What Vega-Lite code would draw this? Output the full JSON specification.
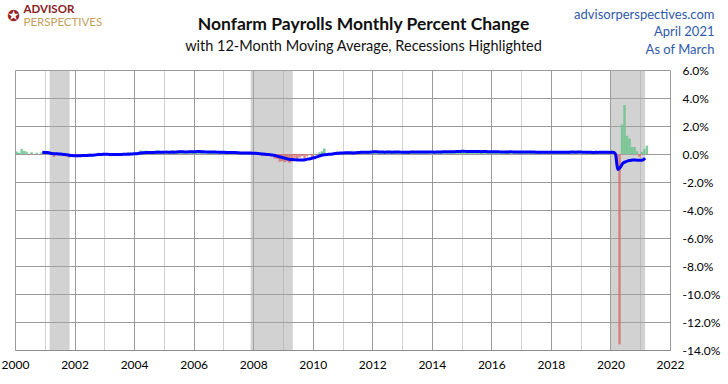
{
"$schema": "https://vega.github.io/schema/vega-lite/v6.json",
"width": 655, "height": 280,
"autosize": {"type": "none"},
"padding": {"left": 15, "top": 70, "right": 58, "bottom": 34},
"background": "white",
"title": {"text": "Nonfarm Payrolls Monthly Percent Change", "subtitle": "with 12-Month  Moving  Average, Recessions Highlighted", "anchor": "middle", "frame": "group", "dx": 21, "offset": -50, "font": "Lato", "fontSize": 17.5, "fontWeight": "bold", "color": "#111111", "subtitleFont": "Lato", "subtitleFontSize": 14.5, "subtitleColor": "#111111", "subtitlePadding": 6},
"datasets": {
"rec": [{"s": "2001-03-01", "e": "2001-11-01"}, {"s": "2007-12-01", "e": "2009-05-01"}, {"s": "2020-01-01", "e": "2021-03-01"}],
"jobs": [
{"d":"2000-01-01","p":0.18},{"d":"2000-02-01","p":0.09},{"d":"2000-03-01","p":0.36},{"d":"2000-04-01","p":0.22},{"d":"2000-05-01","p":0.17},{"d":"2000-06-01","p":-0.04},{"d":"2000-07-01","p":0.13},{"d":"2000-08-01","p":0.0},{"d":"2000-09-01","p":0.09},{"d":"2000-10-01","p":0.0},{"d":"2000-11-01","p":0.12},{"d":"2000-12-01","p":0.11,"m":0.119},
{"d":"2001-01-01","p":0.03,"m":0.107},{"d":"2001-02-01","p":0.05,"m":0.103},{"d":"2001-03-01","p":-0.02,"m":0.072},{"d":"2001-04-01","p":-0.21,"m":0.036},{"d":"2001-05-01","p":-0.03,"m":0.019},{"d":"2001-06-01","p":-0.10,"m":0.014},{"d":"2001-07-01","p":-0.09,"m":-0.004},{"d":"2001-08-01","p":-0.12,"m":-0.014},{"d":"2001-09-01","p":-0.18,"m":-0.037},{"d":"2001-10-01","p":-0.25,"m":-0.058},{"d":"2001-11-01","p":-0.22,"m":-0.086},{"d":"2001-12-01","p":-0.13,"m":-0.106},
{"d":"2002-01-01","p":-0.11,"m":-0.118},{"d":"2002-02-01","p":-0.05,"m":-0.126},{"d":"2002-03-01","p":-0.02,"m":-0.126},{"d":"2002-04-01","p":-0.06,"m":-0.113},{"d":"2002-05-01","p":0.0,"m":-0.111},{"d":"2002-06-01","p":0.04,"m":-0.099},{"d":"2002-07-01","p":-0.07,"m":-0.098},{"d":"2002-08-01","p":0.0,"m":-0.088},{"d":"2002-09-01","p":-0.06,"m":-0.078},{"d":"2002-10-01","p":0.09,"m":-0.049},{"d":"2002-11-01","p":0.01,"m":-0.030},{"d":"2002-12-01","p":-0.12,"m":-0.029},
{"d":"2003-01-01","p":0.07,"m":-0.014},{"d":"2003-02-01","p":-0.12,"m":-0.020},{"d":"2003-03-01","p":-0.16,"m":-0.032},{"d":"2003-04-01","p":-0.04,"m":-0.030},{"d":"2003-05-01","p":-0.01,"m":-0.031},{"d":"2003-06-01","p":0.0,"m":-0.034},{"d":"2003-07-01","p":0.02,"m":-0.027},{"d":"2003-08-01","p":-0.03,"m":-0.029},{"d":"2003-09-01","p":0.08,"m":-0.018},{"d":"2003-10-01","p":0.15,"m":-0.013},{"d":"2003-11-01","p":0.01,"m":-0.013},{"d":"2003-12-01","p":0.10,"m":0.006},
{"d":"2004-01-01","p":0.11,"m":0.009},{"d":"2004-02-01","p":0.03,"m":0.022},{"d":"2004-03-01","p":0.26,"m":0.057},{"d":"2004-04-01","p":0.19,"m":0.076},{"d":"2004-05-01","p":0.24,"m":0.097},{"d":"2004-06-01","p":0.06,"m":0.102},{"d":"2004-07-01","p":0.03,"m":0.103},{"d":"2004-08-01","p":0.09,"m":0.113},{"d":"2004-09-01","p":0.12,"m":0.116},{"d":"2004-10-01","p":0.26,"m":0.125},{"d":"2004-11-01","p":0.05,"m":0.128},{"d":"2004-12-01","p":0.10,"m":0.128},
{"d":"2005-01-01","p":0.10,"m":0.128},{"d":"2005-02-01","p":0.18,"m":0.140},{"d":"2005-03-01","p":0.11,"m":0.128},{"d":"2005-04-01","p":0.27,"m":0.134},{"d":"2005-05-01","p":0.13,"m":0.125},{"d":"2005-06-01","p":0.18,"m":0.135},{"d":"2005-07-01","p":0.28,"m":0.156},{"d":"2005-08-01","p":0.14,"m":0.160},{"d":"2005-09-01","p":0.05,"m":0.154},{"d":"2005-10-01","p":0.06,"m":0.138},{"d":"2005-11-01","p":0.25,"m":0.154},{"d":"2005-12-01","p":0.12,"m":0.156},
{"d":"2006-01-01","p":0.20,"m":0.164},{"d":"2006-02-01","p":0.23,"m":0.168},{"d":"2006-03-01","p":0.21,"m":0.177},{"d":"2006-04-01","p":0.13,"m":0.165},{"d":"2006-05-01","p":0.02,"m":0.156},{"d":"2006-06-01","p":0.06,"m":0.146},{"d":"2006-07-01","p":0.15,"m":0.135},{"d":"2006-08-01","p":0.13,"m":0.134},{"d":"2006-09-01","p":0.12,"m":0.140},{"d":"2006-10-01","p":0.0,"m":0.135},{"d":"2006-11-01","p":0.15,"m":0.127},{"d":"2006-12-01","p":0.13,"m":0.128},
{"d":"2007-01-01","p":0.17,"m":0.125},{"d":"2007-02-01","p":0.06,"m":0.111},{"d":"2007-03-01","p":0.14,"m":0.105},{"d":"2007-04-01","p":0.06,"m":0.099},{"d":"2007-05-01","p":0.10,"m":0.106},{"d":"2007-06-01","p":0.05,"m":0.105},{"d":"2007-07-01","p":-0.02,"m":0.091},{"d":"2007-08-01","p":-0.01,"m":0.079},{"d":"2007-09-01","p":0.06,"m":0.074},{"d":"2007-10-01","p":0.06,"m":0.079},{"d":"2007-11-01","p":0.08,"m":0.073},{"d":"2007-12-01","p":0.07,"m":0.068},
{"d":"2008-01-01","p":0.01,"m":0.055},{"d":"2008-02-01","p":-0.06,"m":0.045},{"d":"2008-03-01","p":-0.06,"m":0.028},{"d":"2008-04-01","p":-0.15,"m":0.011},{"d":"2008-05-01","p":-0.13,"m":-0.008},{"d":"2008-06-01","p":-0.12,"m":-0.023},{"d":"2008-07-01","p":-0.15,"m":-0.033},{"d":"2008-08-01","p":-0.19,"m":-0.048},{"d":"2008-09-01","p":-0.33,"m":-0.081},{"d":"2008-10-01","p":-0.35,"m":-0.115},{"d":"2008-11-01","p":-0.56,"m":-0.168},{"d":"2008-12-01","p":-0.51,"m":-0.217},
{"d":"2009-01-01","p":-0.59,"m":-0.267},{"d":"2009-02-01","p":-0.53,"m":-0.306},{"d":"2009-03-01","p":-0.63,"m":-0.353},{"d":"2009-04-01","p":-0.53,"m":-0.385},{"d":"2009-05-01","p":-0.27,"m":-0.397},{"d":"2009-06-01","p":-0.36,"m":-0.417},{"d":"2009-07-01","p":-0.25,"m":-0.425},{"d":"2009-08-01","p":-0.16,"m":-0.423},{"d":"2009-09-01","p":-0.34,"m":-0.423},{"d":"2009-10-01","p":-0.17,"m":-0.408},{"d":"2009-11-01","p":-0.02,"m":-0.363},{"d":"2009-12-01","p":-0.22,"m":-0.339},
{"d":"2010-01-01","p":0.01,"m":-0.289},{"d":"2010-02-01","p":-0.04,"m":-0.248},{"d":"2010-03-01","p":0.12,"m":-0.186},{"d":"2010-04-01","p":0.19,"m":-0.126},{"d":"2010-05-01","p":0.40,"m":-0.070},{"d":"2010-06-01","p":-0.09,"m":-0.048},{"d":"2010-07-01","p":-0.05,"m":-0.031},{"d":"2010-08-01","p":-0.03,"m":-0.020},{"d":"2010-09-01","p":-0.04,"m":0.005},{"d":"2010-10-01","p":0.19,"m":0.035},{"d":"2010-11-01","p":0.11,"m":0.046},{"d":"2010-12-01","p":0.05,"m":0.068},
{"d":"2011-01-01","p":0.05,"m":0.072},{"d":"2011-02-01","p":0.13,"m":0.086},{"d":"2011-03-01","p":0.16,"m":0.089},{"d":"2011-04-01","p":0.24,"m":0.093},{"d":"2011-05-01","p":0.08,"m":0.067},{"d":"2011-06-01","p":0.17,"m":0.088},{"d":"2011-07-01","p":0.08,"m":0.099},{"d":"2011-08-01","p":0.09,"m":0.109},{"d":"2011-09-01","p":0.17,"m":0.127},{"d":"2011-10-01","p":0.14,"m":0.123},{"d":"2011-11-01","p":0.12,"m":0.123},{"d":"2011-12-01","p":0.15,"m":0.132},
{"d":"2012-01-01","p":0.27,"m":0.150},{"d":"2012-02-01","p":0.17,"m":0.153},{"d":"2012-03-01","p":0.18,"m":0.155},{"d":"2012-04-01","p":0.07,"m":0.141},{"d":"2012-05-01","p":0.08,"m":0.141},{"d":"2012-06-01","p":0.07,"m":0.133},{"d":"2012-07-01","p":0.12,"m":0.136},{"d":"2012-08-01","p":0.11,"m":0.138},{"d":"2012-09-01","p":0.12,"m":0.133},{"d":"2012-10-01","p":0.17,"m":0.136},{"d":"2012-11-01","p":0.15,"m":0.138},{"d":"2012-12-01","p":0.16,"m":0.139},
{"d":"2013-01-01","p":0.14,"m":0.128},{"d":"2013-02-01","p":0.23,"m":0.133},{"d":"2013-03-01","p":0.10,"m":0.127},{"d":"2013-04-01","p":0.14,"m":0.133},{"d":"2013-05-01","p":0.16,"m":0.139},{"d":"2013-06-01","p":0.11,"m":0.143},{"d":"2013-07-01","p":0.10,"m":0.141},{"d":"2013-08-01","p":0.20,"m":0.148},{"d":"2013-09-01","p":0.11,"m":0.148},{"d":"2013-10-01","p":0.17,"m":0.148},{"d":"2013-11-01","p":0.19,"m":0.151},{"d":"2013-12-01","p":0.03,"m":0.140},
{"d":"2014-01-01","p":0.14,"m":0.140},{"d":"2014-02-01","p":0.11,"m":0.130},{"d":"2014-03-01","p":0.20,"m":0.138},{"d":"2014-04-01","p":0.24,"m":0.147},{"d":"2014-05-01","p":0.18,"m":0.148},{"d":"2014-06-01","p":0.22,"m":0.158},{"d":"2014-07-01","p":0.17,"m":0.163},{"d":"2014-08-01","p":0.16,"m":0.160},{"d":"2014-09-01","p":0.21,"m":0.168},{"d":"2014-10-01","p":0.14,"m":0.166},{"d":"2014-11-01","p":0.24,"m":0.170},{"d":"2014-12-01","p":0.21,"m":0.185},
{"d":"2015-01-01","p":0.17,"m":0.188},{"d":"2015-02-01","p":0.18,"m":0.193},{"d":"2015-03-01","p":0.07,"m":0.183},{"d":"2015-04-01","p":0.20,"m":0.179},{"d":"2015-05-01","p":0.23,"m":0.183},{"d":"2015-06-01","p":0.17,"m":0.179},{"d":"2015-07-01","p":0.20,"m":0.182},{"d":"2015-08-01","p":0.10,"m":0.177},{"d":"2015-09-01","p":0.11,"m":0.168},{"d":"2015-10-01","p":0.22,"m":0.175},{"d":"2015-11-01","p":0.18,"m":0.170},{"d":"2015-12-01","p":0.19,"m":0.168},
{"d":"2016-01-01","p":0.08,"m":0.161},{"d":"2016-02-01","p":0.17,"m":0.160},{"d":"2016-03-01","p":0.15,"m":0.167},{"d":"2016-04-01","p":0.12,"m":0.160},{"d":"2016-05-01","p":0.04,"m":0.144},{"d":"2016-06-01","p":0.21,"m":0.148},{"d":"2016-07-01","p":0.23,"m":0.150},{"d":"2016-08-01","p":0.11,"m":0.151},{"d":"2016-09-01","p":0.18,"m":0.157},{"d":"2016-10-01","p":0.10,"m":0.147},{"d":"2016-11-01","p":0.11,"m":0.141},{"d":"2016-12-01","p":0.16,"m":0.138},
{"d":"2017-01-01","p":0.16,"m":0.145},{"d":"2017-02-01","p":0.14,"m":0.143},{"d":"2017-03-01","p":0.05,"m":0.134},{"d":"2017-04-01","p":0.12,"m":0.134},{"d":"2017-05-01","p":0.17,"m":0.145},{"d":"2017-06-01","p":0.16,"m":0.141},{"d":"2017-07-01","p":0.12,"m":0.132},{"d":"2017-08-01","p":0.13,"m":0.133},{"d":"2017-09-01","p":0.03,"m":0.121},{"d":"2017-10-01","p":0.14,"m":0.124},{"d":"2017-11-01","p":0.15,"m":0.128},{"d":"2017-12-01","p":0.11,"m":0.123},
{"d":"2018-01-01","p":0.12,"m":0.120},{"d":"2018-02-01","p":0.21,"m":0.126},{"d":"2018-03-01","p":0.09,"m":0.129},{"d":"2018-04-01","p":0.12,"m":0.129},{"d":"2018-05-01","p":0.19,"m":0.131},{"d":"2018-06-01","p":0.15,"m":0.130},{"d":"2018-07-01","p":0.09,"m":0.128},{"d":"2018-08-01","p":0.17,"m":0.131},{"d":"2018-09-01","p":0.08,"m":0.135},{"d":"2018-10-01","p":0.16,"m":0.137},{"d":"2018-11-01","p":0.11,"m":0.133},{"d":"2018-12-01","p":0.16,"m":0.138},
{"d":"2019-01-01","p":0.18,"m":0.143},{"d":"2019-02-01","p":0.0,"m":0.125},{"d":"2019-03-01","p":0.10,"m":0.126},{"d":"2019-04-01","p":0.14,"m":0.128},{"d":"2019-05-01","p":0.06,"m":0.117},{"d":"2019-06-01","p":0.12,"m":0.114},{"d":"2019-07-01","p":0.13,"m":0.118},{"d":"2019-08-01","p":0.14,"m":0.115},{"d":"2019-09-01","p":0.14,"m":0.120},{"d":"2019-10-01","p":0.12,"m":0.117},{"d":"2019-11-01","p":0.17,"m":0.122},{"d":"2019-12-01","p":0.12,"m":0.118},
{"d":"2020-01-01","p":0.14,"m":0.115},{"d":"2020-02-01","p":0.17,"m":0.129},{"d":"2020-03-01","p":-1.10,"m":0.029},{"d":"2020-04-01","p":-13.60,"m":-1.116},{"d":"2020-05-01","p":2.10,"m":-0.946},{"d":"2020-06-01","p":3.50,"m":-0.664},{"d":"2020-07-01","p":1.30,"m":-0.567},{"d":"2020-08-01","p":1.10,"m":-0.487},{"d":"2020-09-01","p":0.50,"m":-0.457},{"d":"2020-10-01","p":0.50,"m":-0.425},{"d":"2020-11-01","p":0.20,"m":-0.423},{"d":"2020-12-01","p":-0.20,"m":-0.449},
{"d":"2021-01-01","p":0.15,"m":-0.448},{"d":"2021-02-01","p":0.36,"m":-0.433},{"d":"2021-03-01","p":0.60,"m":-0.291}
]
},
"layer": [
{"data": {"name": "rec"},
 "mark": {"type": "rect", "color": "#a6a6a6", "opacity": 0.5},
 "encoding": {
  "x": {"field": "s", "type": "temporal",
   "scale": {"type": "utc", "domain": [{"year": 2000, "month": 1, "date": 1, "utc": true}, {"year": 2022, "month": 1, "date": 1, "utc": true}]},
   "axis": {
    "orient": "bottom",
    "values": [{"year":2000,"utc":true},{"year":2001,"utc":true},{"year":2002,"utc":true},{"year":2003,"utc":true},{"year":2004,"utc":true},{"year":2005,"utc":true},{"year":2006,"utc":true},{"year":2007,"utc":true},{"year":2008,"utc":true},{"year":2009,"utc":true},{"year":2010,"utc":true},{"year":2011,"utc":true},{"year":2012,"utc":true},{"year":2013,"utc":true},{"year":2014,"utc":true},{"year":2015,"utc":true},{"year":2016,"utc":true},{"year":2017,"utc":true},{"year":2018,"utc":true},{"year":2019,"utc":true},{"year":2020,"utc":true},{"year":2021,"utc":true},{"year":2022,"utc":true}],
    "labelExpr": "utcyear(datum.value) % 2 == 0 ? utcFormat(datum.value, '%Y') : ''",
    "labelOverlap": false, "labelFlush": false, "labelFont": "Lato", "labelFontSize": 12, "labelColor": "#000000", "labelPadding": 9,
    "ticks": false, "domain": true, "domainColor": "#8c8c8c",
    "grid": true, "gridColor": {"condition": {"test": "utcyear(datum.value) % 2 == 0", "value": "#9a9a9a"}, "value": "#d2d2d2"},
    "title": "ADVISOR", "titleX": 8, "titleY": -341, "titleAlign": "left", "titleBaseline": "middle", "titleAngle": 0,
    "titleFont": "Lato", "titleFontSize": 11.5, "titleFontWeight": "bold", "titleColor": "#8b1d1d"
   }},
  "x2": {"field": "e"}
 }},
{"data": {"name": "jobs"},
 "mark": {"type": "bar", "opacity": 0.85, "binSpacing": 0},
 "encoding": {
  "x": {"field": "d", "type": "temporal", "timeUnit": "utcyearmonth", "scale": {"type": "utc"},
   "axis": {"orient": "top", "labels": false, "ticks": false, "domain": false, "grid": false,
    "title": "✪", "titleX": -2, "titleY": -55, "titleAlign": "center", "titleBaseline": "middle", "titleAngle": 0,
    "titleFont": "DejaVu Sans", "titleFontSize": 15, "titleFontWeight": "normal", "titleColor": "#9b2226"}},
  "y": {"field": "p", "type": "quantitative", "scale": {"domain": [-14, 6], "nice": false, "zero": false},
   "axis": {"orient": "right", "values": [-14,-12,-10,-8,-6,-4,-2,0,2,4,6], "labelExpr": "(datum.value < 0 ? '-' : '') + format(abs(datum.value), '.1f') + '%'",
    "labelAlign": "left", "labelPadding": 12, "labelFont": "Lato", "labelFontSize": 12, "labelColor": "#000000",
    "ticks": false, "domain": false, "grid": true, "gridColor": "#9a9a9a",
    "title": ["advisorperspectives.com", "April 2021", "As of March"], "titleAngle": 0, "titleAlign": "right", "titleBaseline": "top",
    "titleX": 44, "titleY": -62, "titleFont": "Lato", "titleFontSize": 13, "titleFontWeight": "normal", "titleColor": "#2f5aa8", "titleLineHeight": 17.5}},
  "color": {"condition": {"test": "datum.p >= 0", "value": "#6cc48c"}, "value": "#d47373"}
 }},
{"data": {"name": "jobs"},
 "mark": {"type": "line", "color": "#0000ff", "strokeWidth": 3, "interpolate": "monotone"},
 "encoding": {
  "x": {"field": "d", "type": "temporal", "timeUnit": "utcyearmonth", "scale": {"type": "utc"}, "axis": null},
  "y": {"field": "m", "type": "quantitative",
   "axis": {"orient": "left", "labels": false, "ticks": false, "domain": false, "grid": false,
    "title": "PERSPECTIVES", "titleAngle": 0, "titleAlign": "left", "titleBaseline": "middle", "titleX": 8, "titleY": -48,
    "titleFont": "Lato", "titleFontSize": 11.5, "titleFontWeight": "normal", "titleColor": "#c4a05a"}}
 }}
],
"resolve": {"axis": {"x": "independent", "y": "independent"}},
"config": {"view": {"stroke": null}}
}
